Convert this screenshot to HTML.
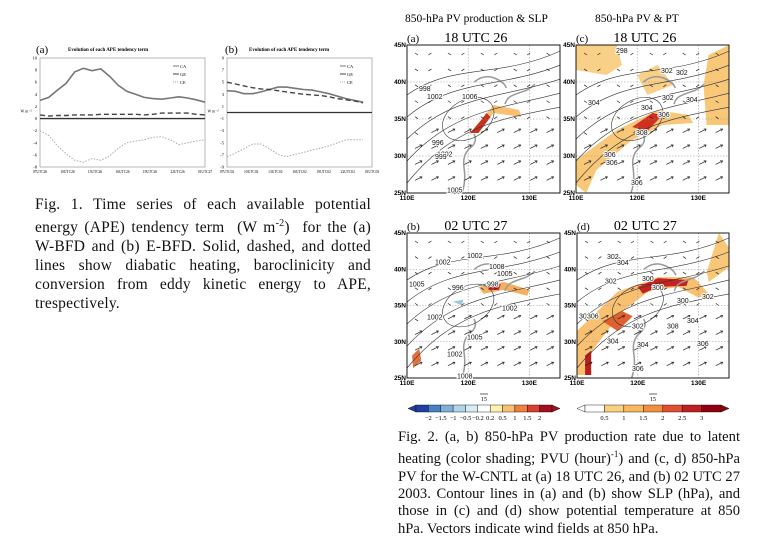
<!DOCTYPE html>
<html><head><meta charset="utf-8"><style>
body{margin:0;background:#fff;width:771px;height:555px;overflow:hidden;position:relative;font-family:"Liberation Serif",serif}
.cap{position:absolute;text-align:justify;text-align-last:left;color:#111}
#c1{left:35px;top:195px;width:336px;font-size:15.5px;line-height:19px;letter-spacing:0.2px}
#c2{left:398px;top:429px;width:342px;font-size:14.6px;line-height:17.4px}
svg{position:absolute;left:0;top:0}
</style></head><body>
<svg id="s" width="771" height="555" xmlns="http://www.w3.org/2000/svg" font-family="Liberation Serif, serif"></svg>
<div class="cap" id="c1">Fig. 1. Time series of each available potential energy (APE) tendency term &nbsp;(W m<sup style="font-size:10px">-2</sup>) &nbsp;for the (a) W-BFD and (b) E-BFD. Solid, dashed, and dotted lines show diabatic heating, baroclinicity and conversion from eddy kinetic energy to APE, trespectively.</div>
<div class="cap" id="c2">Fig. 2. (a, b) 850-hPa PV production rate due to latent heating (color shading; PVU (hour)<sup style="font-size:9px">-1</sup>) and (c, d) 850-hPa PV for the W-CNTL at (a) 18 UTC 26, and (b) 02 UTC 27 2003. Contour lines in (a) and (b) show SLP (hPa), and those in (c) and (d) show potential temperature at 850 hPa. Vectors indicate wind fields at 850 hPa.</div>
<script>
var s=document.getElementById('s'),h='';
function t(x,y,str,sz,anc,w,ff){h+='<text x="'+x+'" y="'+y+'" font-size="'+sz+'"'+(anc?' text-anchor="'+anc+'"':'')+(w?' font-weight="bold"':'')+(ff?' font-family="'+ff+'"':'')+'>'+str+'</text>';}
function pl(pts,st){h+='<polyline fill="none" points="'+pts.map(function(p){return p[0].toFixed(1)+','+p[1].toFixed(1)}).join(' ')+'" '+st+'/>';}
function chart(x0,x1,y0,y1,vmin,vmax,ticks,xl,xEnd,sol,das,dot){
 h+='<rect x="'+x0+'" y="'+y0+'" width="'+(x1-x0)+'" height="'+(y1-y0)+'" fill="none" stroke="#999" stroke-width="0.7"/>';
 var Y=function(v){return y1-(v-vmin)/(vmax-vmin)*(y1-y0)};
 h+='<line x1="'+x0+'" x2="'+x1+'" y1="'+Y(0)+'" y2="'+Y(0)+'" stroke="#333" stroke-width="1.3"/>';
 ticks.forEach(function(v){t(x0-3,Y(v)+1.5,v,4.5,'end');});
 xl.forEach(function(s,i){t(x0+i*(x1-x0)/(xl.length-1),y1+6,s,3.6,'middle');});
 function pts(a){var n=a.length;return a.map(function(v,i){return [x0+i*(xEnd-x0)/(n-1),Y(v)]});}
 pl(pts(sol),'stroke="#777" stroke-width="1.6"');
 pl(pts(das),'stroke="#444" stroke-width="1.4" stroke-dasharray="5,3"');
 pl(pts(dot),'stroke="#aaa" stroke-width="1" stroke-dasharray="1.5,1.5"');
 t(x0-14,(y0+y1)/2,'W m⁻²',4,'middle');
 var lx=x1-32;[['CA','#777',''],['GE','#444',''],['CE','#aaa','1,1']].forEach(function(l,i){var yy=y0+8+i*8;h+='<line x1="'+lx+'" x2="'+(lx+6)+'" y1="'+yy+'" y2="'+yy+'" stroke="'+l[1]+'" stroke-dasharray="'+l[2]+'"/>';t(lx+7,yy+2,l[0],4.5);});
}
t(36,53,'(a)',11);t(68,51,'Evolution of each APE tendency term',5,'',1);
chart(40,205,58,167,-8,10,[10,8,6,4,2,0,-2,-4,-6,-8],['07UTC26','10UTC26','13UTC26','16UTC26','19UTC26','22UTC26','01UTC27'],205,
[3,3.5,4.7,5.8,7.7,8.3,7.9,8.2,7,5.5,4.5,4,3.5,3.3,3.2,3.4,3.6,3.4,3.1,2.7],
[0.6,0.4,0.5,0.5,0.6,0.6,0.6,0.7,0.7,0.7,0.7,0.7,0.6,0.7,0.9,0.9,0.9,0.9,0.7,0.6],
[-2,-2.8,-4.5,-5.8,-6.9,-7.2,-6.6,-6.9,-6.2,-4.9,-4,-3.7,-3.5,-3.1,-3,-3.5,-4.3,-4,-3.7,-3.5]);
t(225,53,'(b)',11);t(249,51,'Evolution of each APE tendency term',5,'',1);
chart(227,372,58,167,-9,9,[9,7,5,3,1,-1,-3,-5,-7,-9],['07UTC02','10UTC02','13UTC02','16UTC02','19UTC02','22UTC02','01UTC03'],363,
[3.6,3.5,3.1,3.1,3.4,3.8,4.2,4.2,4,3.8,3.7,3.4,3.1,2.7,2.3,2,1.7],
[5,4.7,4.4,4.1,3.9,3.8,3.6,3.4,3.2,3,2.9,2.8,2.6,2.3,2.1,1.9,1.6],
[-7.3,-6.7,-6,-5.2,-5.2,-6,-6.9,-7.3,-6.9,-6.6,-6.2,-5.9,-5.5,-5,-4.5,-4.5,-4.5]);
function map(x0,y0,w,hh,lab,time,shade,pvt){
 var X=function(lo){return x0+(lo-110)/25*w},Y=function(la){return y0+hh-(la-25)/20*hh};
 h+='<rect x="'+x0+'" y="'+y0+'" width="'+w+'" height="'+hh+'" fill="#fff"/>';
 shade.forEach(function(s){h+='<path d="'+s[0]+'" fill="'+s[1]+'" transform="translate('+x0+','+y0+') scale('+(w/150)+','+(hh/148)+')"/>';});
 [120,130].forEach(function(l){h+='<line x1="'+X(l)+'" x2="'+X(l)+'" y1="'+y0+'" y2="'+(y0+hh)+'" stroke="#999" stroke-width="0.6" stroke-dasharray="1.5,1.5"/>';});
 [30,35,40].forEach(function(l){h+='<line y1="'+Y(l)+'" y2="'+Y(l)+'" x1="'+x0+'" x2="'+(x0+w)+'" stroke="#999" stroke-width="0.6" stroke-dasharray="1.5,1.5"/>';});
 h+='<path d="M'+X(121)+','+Y(40)+' q10,-8 20,-4 t12,10 M'+X(119)+','+Y(25)+' q4,-12 2,-25 t6,-20 q8,-6 4,-14 M'+X(126)+','+Y(37)+' q2,-6 6,-8 t10,-4 q8,-2 14,-8" fill="none" stroke="#999" stroke-width="1.5"/>';
 for(var k=0;k<5;k++){h+='<path d="M'+x0+','+(y0+hh-k*22-10)+' C'+(x0+w*0.3)+','+(y0+hh*0.55-k*16)+' '+(x0+w*0.6)+','+(y0+hh*0.5-k*10)+' '+(x0+w)+','+(y0+hh*0.42-k*14)+'" fill="none" stroke="#333" stroke-width="0.6"/>';}
 h+='<ellipse cx="'+(x0+w*0.4)+'" cy="'+(y0+hh*0.5)+'" rx="'+(w*0.18)+'" ry="'+(hh*0.13)+'" fill="none" stroke="#333" stroke-width="0.6" transform="rotate(-30 '+(x0+w*0.4)+' '+(y0+hh*0.5)+')"/>';
 for(var i=0;i<9;i++)for(var j=0;j<9;j++){var ax=x0+8+i*w/9.3,ay=y0+8+j*hh/9.3;var south=j>4&&i+j>5;var dx=south?7:(i%2?-3:3),dy=south?-3.5:2;h+='<line x1="'+ax+'" y1="'+ay+'" x2="'+(ax+dx)+'" y2="'+(ay+dy)+'" stroke="#222" stroke-width="0.7"/>';if(south)h+='<path d="M'+(ax+dx-2.5)+','+(ay+dy-0.2)+' L'+(ax+dx)+','+(ay+dy)+' L'+(ax+dx-1.2)+','+(ay+dy+2.2)+'" fill="none" stroke="#222" stroke-width="0.6"/>';}
 h+='<rect x="'+x0+'" y="'+y0+'" width="'+w+'" height="'+hh+'" fill="none" stroke="#000" stroke-width="0.9"/>';
 [[45,'45N'],[40,'40N'],[35,'35N'],[30,'30N'],[25,'25N']].forEach(function(a){t(x0-1,Y(a[0])+2,a[1],6.5,'end',1,'Liberation Sans');});
 [[110,'110E'],[120,'120E'],[130,'130E']].forEach(function(a){t(X(a[0]),y0+hh+7,a[1],6.5,'middle',1,'Liberation Sans');});
 t(x0,y0-3,lab,11);t(x0+w*0.45,y0-3,time,14,'middle');
 pvt.forEach(function(p){h+='<text x="'+(x0+p[0])+'" y="'+(y0+p[1])+'" font-size="7" font-family="Liberation Sans" fill="#111" stroke="#fff" stroke-width="2" paint-order="stroke">'+p[2]+'</text>';});
}
t(405,22,'850-hPa PV production &amp; SLP',11.5);t(595,22,'850-hPa PV  &amp; PT',11.5);
map(407,45,153,148,'(a)','18 UTC 26',[['M60,90 L75,72 L85,60 L110,65 L112,72 L85,68 L70,85Z','#f8c070'],['M62,88 L72,76 L78,68 L82,72 L70,88Z','#c83020']],[[12,60,'998'],[25,130,'996'],[30,145,'1002'],[20,70,'1002'],[55,70,'1006'],[28,148,'999'],[40,192,'1005']].map(function(p){return [p[0],p[1]/1.3,p[2]]}));
map(576,45,153,148,'(c)','18 UTC 26',[['M0,140 L0,115 L40,85 L80,65 L110,70 L115,78 L85,80 L55,95 L20,125 L10,148Z','#f8c878'],['M55,82 L75,68 L85,70 L70,86Z','#d03020'],['M130,10 L150,0 L150,80 L128,80 L125,40Z','#f8c878'],['M0,0 L40,0 L45,20 L30,30 L0,25Z','#f8d088'],['M60,30 L80,20 L95,40 L70,50Z','#f8d088']],[[12,60,'304'],[65,65,'304'],[82,72,'306'],[86,55,'302'],[110,57,'304'],[28,112,'306'],[30,120,'306'],[60,90,'308'],[85,28,'302'],[100,30,'302'],[40,8,'298'],[55,140,'306']]);
map(407,233,153,145,'(b)','02 UTC 27',[['M70,55 L95,50 L120,58 L118,64 L95,58 L75,62Z','#f4b060'],['M80,54 L92,52 L90,58 L80,58Z','#c02020'],['M5,125 L12,118 L14,130 L6,138Z','#e07040'],['M45,70 L55,68 L54,74 Z','#9cc8e0']],[[60,27,'1002'],[28,34,'1002'],[2,58,'1005'],[82,39,'1008'],[80,58,'998'],[90,47,'1005'],[45,62,'996'],[95,84,'1002'],[20,94,'1002'],[60,116,'1005'],[40,134,'1002'],[50,158,'1008']].map(function(p){return [p[0],p[1]*0.92,p[2]]}));
map(577,233,152,145,'(d)','02 UTC 27',[['M0,145 L0,100 L40,60 L80,45 L115,45 L130,62 L120,66 L100,55 L70,60 L45,80 L15,120 L10,145Z','#f8c070'],['M60,55 L80,46 L110,48 L108,54 L80,55 L65,62Z','#c82020'],['M8,145 L8,125 L14,120 L14,145Z','#b82020'],['M130,50 L150,35 L150,15 L140,0 L128,40Z','#f8c878'],['M25,90 L45,80 L55,85 L40,100Z','#e06030']],[[30,28,'302'],[40,35,'304'],[28,55,'302'],[65,52,'300'],[75,62,'300'],[100,76,'300'],[125,72,'302'],[110,98,'304'],[55,104,'302'],[90,104,'308'],[30,120,'304'],[60,124,'304'],[55,150,'306'],[2,93,'308'],[10,93,'306'],[120,123,'306']].map(function(p){return [p[0],p[1]*0.92,p[2]]}));
function cbar(x0,w,cols,labs){var n=cols.length,cw=(w-16)/n,y=405;
 h+='<polygon points="'+x0+','+(y+3.5)+' '+(x0+8)+','+y+' '+(x0+8)+','+(y+7)+'" fill="'+cols[0]+'" stroke="#000" stroke-width="0.4"/>';
 for(var i=0;i<n;i++)h+='<rect x="'+(x0+8+i*cw)+'" y="'+y+'" width="'+cw+'" height="7" fill="'+cols[i]+'" stroke="#000" stroke-width="0.4"/>';
 h+='<polygon points="'+(x0+w)+','+(y+3.5)+' '+(x0+w-8)+','+y+' '+(x0+w-8)+','+(y+7)+'" fill="'+cols[n-1]+'" stroke="#000" stroke-width="0.4"/>';
 labs.forEach(function(l,i){t(x0+8+(i+1)*cw,y+15,l,6.5,'middle');});
 h+='<line x1="'+(x0+w/2-4)+'" x2="'+(x0+w/2+4)+'" y1="394" y2="394" stroke="#000" stroke-width="0.6"/>';t(x0+w/2,401,'15',6,'middle');}
cbar(408,152,['#2040a0','#4a80c0','#80b0d8','#b0d4e8','#d8ecf4','#fff','#fff0b0','#f8c070','#f08040','#d84030','#a01020'],['−2','−1.5','−1','−0.5','−0.2','0.2','0.5','1','1.5','2']);
cbar(577,152,['#fff','#f8d080','#f8b860','#f09040','#e05030','#c02020','#900010'],['0.5','1','1.5','2','2.5','3']);
s.innerHTML=h;
</script>
</body></html>
